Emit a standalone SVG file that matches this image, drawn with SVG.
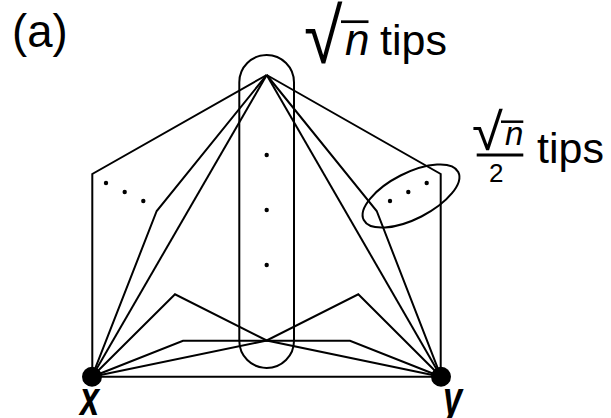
<svg xmlns="http://www.w3.org/2000/svg" width="611" height="418" viewBox="0 0 611 418">
<style>
.ln{fill:none;stroke:#000;stroke-width:2;stroke-linejoin:miter}
.dot{fill:#000}
.t{font-family:"Liberation Sans",Arial,sans-serif;fill:#000}
.it{font-style:italic}
.rad{font-family:"DejaVu Sans",sans-serif;font-weight:200;fill:#000}
.lbl{font-family:"Liberation Sans",Arial,sans-serif;font-weight:bold;font-style:italic;fill:#000}
</style>
<rect width="611" height="418" fill="#fff"/>
<text class="t" x="12" y="46.5" font-size="45.5">(a)</text>
<g id="connectors">
<path class="ln" d="M266.7,75 L92.3,174 L92.3,376.7"/>
<path class="ln" d="M266.7,75 L156.7,211 L92,376.7"/>
<path class="ln" d="M266.7,75 L92,376.7"/>
<path class="ln" d="M266.7,75 L440.7,174 L440.7,376.7"/>
<path class="ln" d="M266.7,75 L376.7,211 L441,376.7"/>
<path class="ln" d="M266.7,75 L441,376.7"/>
<path class="ln" d="M92,376.7 L175,294.3 L266.7,340.5 L441,376.7"/>
<path class="ln" d="M92,376.7 L266.7,340.5 L358.3,294.3 L441,376.7"/>
<path class="ln" d="M92,376.7 L183,340.7 L350,340.7 L441,376.7"/>
<path class="ln" d="M92,376.7 L441,376.7"/>
</g>
<g id="tips-group">
<rect class="ln" x="239.3" y="55" width="54.7" height="313" rx="27.3"/>
<circle class="dot" cx="266.7" cy="155" r="2.2"/>
<circle class="dot" cx="266.7" cy="210" r="2.2"/>
<circle class="dot" cx="266.7" cy="265" r="2.2"/>
</g>
<g id="left-dots">
<circle class="dot" cx="106" cy="183" r="2.2"/>
<circle class="dot" cx="124.7" cy="192" r="2.2"/>
<circle class="dot" cx="143.3" cy="201" r="2.2"/>
</g>
<g id="half-tips-group">
<ellipse class="ln" cx="411" cy="196" rx="53" ry="23" transform="rotate(-27 411 196)"/>
<circle class="dot" cx="390" cy="201" r="2.2"/>
<circle class="dot" cx="408.3" cy="192" r="2.2"/>
<circle class="dot" cx="426.7" cy="183" r="2.2"/>
</g>
<g id="node-x">
<circle class="dot" cx="92" cy="376.7" r="10"/>
<text class="lbl" font-size="48" transform="translate(80,415) scale(0.72,1)">x</text>
</g>
<g id="node-y">
<circle class="dot" cx="441" cy="376.7" r="10"/>
<text class="lbl" font-size="48" transform="translate(443,415) scale(0.72,1)">y</text>
</g>
<g id="label-sqrt-n">
<text class="rad" font-size="50" transform="translate(304,63) scale(1.4,1.55)">√</text>
<line x1="341" y1="21.7" x2="368.5" y2="21.7" stroke="#000" stroke-width="2.7"/>
<text class="t it" x="345" y="55" font-size="44">n</text>
<text class="t" x="380" y="55" font-size="43">tips</text>
</g>
<g id="label-half">
<text class="rad" font-size="52" transform="translate(472,150) scale(1.08,1)">√</text>
<line x1="501" y1="121.7" x2="523.3" y2="121.7" stroke="#000" stroke-width="2.5"/>
<text class="t it" x="505" y="145" font-size="33">n</text>
<rect x="476.7" y="153.5" width="46.6" height="3" fill="#000"/>
<text class="t" x="489" y="182" font-size="26">2</text>
<text class="t" x="537" y="163.3" font-size="43">tips</text>
</g>
</svg>
